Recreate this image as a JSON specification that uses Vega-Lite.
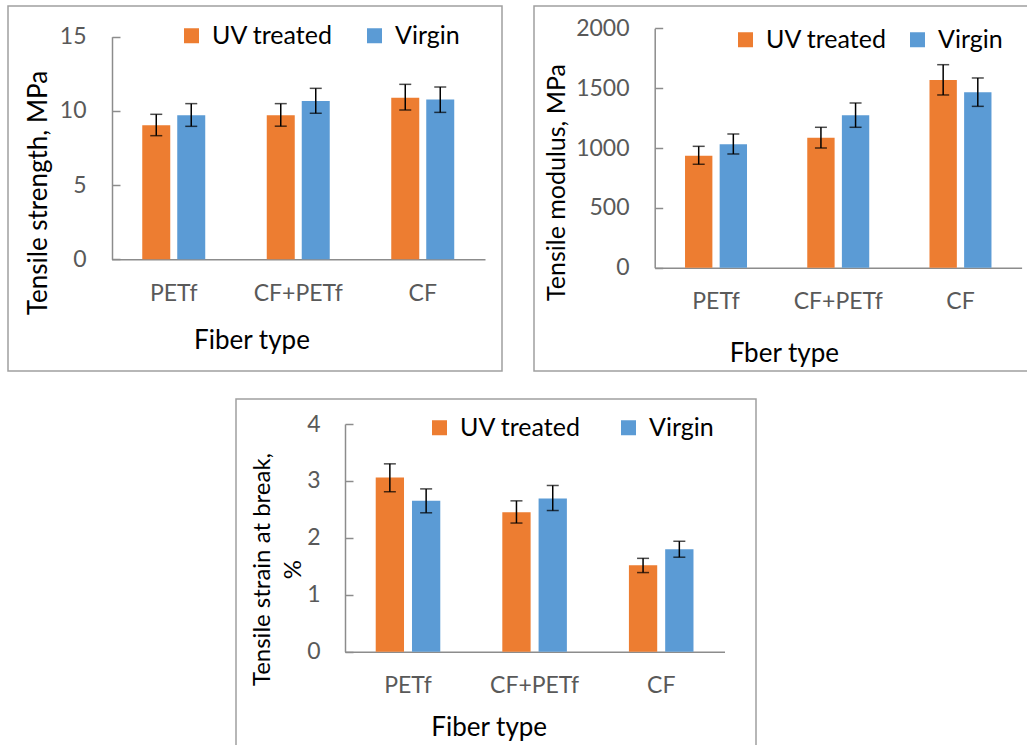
{
  "$schema": "https://vega.github.io/schema/vega-lite/v6.json",
  "padding": {"left": 7, "top": 5, "right": 0, "bottom": 0},
  "autosize": {"type": "pad"},
  "background": "white",
  "datasets": {
    "strength": [
      {"fiber": "PETf", "group": "UV treated", "value": 9.03, "lo": 8.33, "hi": 9.77},
      {"fiber": "PETf", "group": "Virgin", "value": 9.70, "lo": 8.96, "hi": 10.49},
      {"fiber": "CF+PETf", "group": "UV treated", "value": 9.70, "lo": 8.97, "hi": 10.49},
      {"fiber": "CF+PETf", "group": "Virgin", "value": 10.67, "lo": 9.84, "hi": 11.52},
      {"fiber": "CF", "group": "UV treated", "value": 10.89, "lo": 10.06, "hi": 11.79},
      {"fiber": "CF", "group": "Virgin", "value": 10.76, "lo": 9.90, "hi": 11.61}
    ],
    "modulus": [
      {"fiber": "PETf", "group": "UV treated", "value": 936, "lo": 864, "hi": 1014},
      {"fiber": "PETf", "group": "Virgin", "value": 1031, "lo": 950, "hi": 1117},
      {"fiber": "CF+PETf", "group": "UV treated", "value": 1086, "lo": 1000, "hi": 1173},
      {"fiber": "CF+PETf", "group": "Virgin", "value": 1273, "lo": 1173, "hi": 1376},
      {"fiber": "CF", "group": "UV treated", "value": 1568, "lo": 1443, "hi": 1696},
      {"fiber": "CF", "group": "Virgin", "value": 1465, "lo": 1348, "hi": 1585}
    ],
    "strain": [
      {"fiber": "PETf", "group": "UV treated", "value": 3.06, "lo": 2.81, "hi": 3.30},
      {"fiber": "PETf", "group": "Virgin", "value": 2.65, "lo": 2.44, "hi": 2.86},
      {"fiber": "CF+PETf", "group": "UV treated", "value": 2.45, "lo": 2.26, "hi": 2.65},
      {"fiber": "CF+PETf", "group": "Virgin", "value": 2.69, "lo": 2.48, "hi": 2.92},
      {"fiber": "CF", "group": "UV treated", "value": 1.52, "lo": 1.39, "hi": 1.64},
      {"fiber": "CF", "group": "Virgin", "value": 1.80, "lo": 1.66, "hi": 1.94}
    ]
  },
  "resolve": {"scale": {"x": "independent", "y": "independent", "xOffset": "independent", "color": "independent"}, "legend": {"color": "independent"}, "axis": {"x": "independent", "y": "independent"}},
  "spacing": 26,
  "vconcat": [
    {
      "spacing": 30,
      "resolve": {"scale": {"x": "independent", "y": "independent", "xOffset": "independent", "color": "independent"}, "legend": {"color": "independent"}, "axis": {"x": "independent", "y": "independent"}},
      "hconcat": [
        {
          "width": 494, "height": 365,
          "data": {"name": "strength"},
          "encoding": {
            "x": {"field": "fiber", "type": "nominal", "sort": ["PETf", "CF+PETf", "CF"],
              "scale": {"range": [103.5, 477], "paddingInner": 0, "paddingOuter": 0},
              "axis": {"title": "Fiber type", "offset": -111.7, "ticks": false, "labelPadding": 34, "labelBaseline": "middle", "labelAngle": 0, "titleX": 243.5, "titleY": 80.7, "titleBaseline": "middle", "titleAlign": "center"}},
            "xOffset": {"field": "group", "type": "nominal", "sort": ["UV treated", "Virgin"], "scale": {"paddingInner": 0.2, "paddingOuter": 0.879}}
          },
          "layer": [
            {"mark": {"type": "bar"},
             "encoding": {
               "y": {"field": "value", "type": "quantitative", "scale": {"domain": [0, 15], "range": [253.3, 30.7], "nice": false, "zero": true},
                 "axis": {"title": "Tensile strength, MPa", "values": [0, 5, 10, 15], "format": "d", "offset": -104, "tickSize": -8, "labelPadding": 34, "titleX": -74, "titleY": 186.5, "titleBaseline": "middle", "titleAlign": "center", "titleAngle": 270}},
               "color": {"field": "group", "type": "nominal", "scale": {"domain": ["UV treated", "Virgin"], "range": ["#ED7D31", "#5B9BD5"]},
                 "legend": {"orient": "none", "legendX": 171, "legendY": 17, "direction": "horizontal", "title": null, "columnPadding": 29}}
             }},
            {"mark": {"type": "rule", "color": "#000", "strokeWidth": 1.5},
             "encoding": {"y": {"field": "lo", "type": "quantitative"}, "y2": {"field": "hi"}}},
            {"mark": {"type": "tick", "color": "#000", "thickness": 1.5, "size": 12},
             "encoding": {"y": {"field": "lo", "type": "quantitative"}}},
            {"mark": {"type": "tick", "color": "#000", "thickness": 1.5, "size": 12},
             "encoding": {"y": {"field": "hi", "type": "quantitative"}}}
          ]
        },
        {
          "width": 494, "height": 365,
          "data": {"name": "modulus"},
          "encoding": {
            "x": {"field": "fiber", "type": "nominal", "sort": ["PETf", "CF+PETf", "CF"],
              "scale": {"range": [120.9, 487.6], "paddingInner": 0, "paddingOuter": 0},
              "axis": {"title": "Fber type", "offset": -103.3, "ticks": false, "labelPadding": 34, "labelBaseline": "middle", "labelAngle": 0, "titleX": 249.8, "titleY": 85.6, "titleBaseline": "middle", "titleAlign": "center"}},
            "xOffset": {"field": "group", "type": "nominal", "sort": ["UV treated", "Virgin"], "scale": {"paddingInner": 0.21, "paddingOuter": 0.87}}
          },
          "layer": [
            {"mark": {"type": "bar"},
             "encoding": {
               "y": {"field": "value", "type": "quantitative", "scale": {"domain": [0, 2000], "range": [261.7, 22.3], "nice": false, "zero": true},
                 "axis": {"title": "Tensile modulus, MPa", "values": [0, 500, 1000, 1500, 2000], "format": "d", "offset": -120.7, "tickSize": -8, "labelPadding": 33.7, "titleX": -98.7, "titleY": 176, "titleFontSize": 25, "titleBaseline": "middle", "titleAlign": "center", "titleAngle": 270}},
               "color": {"field": "group", "type": "nominal", "scale": {"domain": ["UV treated", "Virgin"], "range": ["#ED7D31", "#5B9BD5"]},
                 "legend": {"orient": "none", "legendX": 199, "legendY": 21, "direction": "horizontal", "title": null, "columnPadding": 18}}
             }},
            {"mark": {"type": "rule", "color": "#000", "strokeWidth": 1.5},
             "encoding": {"y": {"field": "lo", "type": "quantitative"}, "y2": {"field": "hi"}}},
            {"mark": {"type": "tick", "color": "#000", "thickness": 1.5, "size": 12},
             "encoding": {"y": {"field": "lo", "type": "quantitative"}}},
            {"mark": {"type": "tick", "color": "#000", "thickness": 1.5, "size": 12},
             "encoding": {"y": {"field": "hi", "type": "quantitative"}}}
          ]
        }
      ]
    },
    {
      "spacing": 0,
      "resolve": {"scale": {"x": "independent", "y": "independent", "xOffset": "independent", "color": "independent"}, "legend": {"color": "independent"}, "axis": {"x": "independent", "y": "independent"}},
      "hconcat": [
        {"width": 227, "height": 10, "data": {"values": []}, "mark": {"type": "point"}, "encoding": {}, "view": {"stroke": null}},
        {
          "width": 520, "height": 347,
          "data": {"name": "strain"},
          "encoding": {
            "x": {"field": "fiber", "type": "nominal", "sort": ["PETf", "CF+PETf", "CF"],
              "scale": {"range": [108.7, 488.5], "paddingInner": 0, "paddingOuter": 0},
              "axis": {"title": "Fiber type", "offset": -94.3, "ticks": false, "labelPadding": 34, "labelBaseline": "middle", "labelAngle": 0, "titleX": 252.7, "titleY": 75.6, "titleBaseline": "middle", "titleAlign": "center"}},
            "xOffset": {"field": "group", "type": "nominal", "sort": ["UV treated", "Virgin"], "scale": {"paddingInner": 0.22, "paddingOuter": 0.855}}
          },
          "layer": [
            {"mark": {"type": "bar"},
             "encoding": {
               "y": {"field": "value", "type": "quantitative", "scale": {"domain": [0, 4], "range": [252.7, 25], "nice": false, "zero": true},
                 "axis": {"title": ["Tensile strain at break,", "%"], "values": [0, 1, 2, 3, 4], "format": "d", "offset": -109, "tickSize": -8, "labelPadding": 33, "titleX": -82.7, "titleY": 170, "titleFontSize": 24, "titleBaseline": "middle", "titleAlign": "center", "titleAngle": 270, "titleLineHeight": 31}},
               "color": {"field": "group", "type": "nominal", "scale": {"domain": ["UV treated", "Virgin"], "range": ["#ED7D31", "#5B9BD5"]},
                 "legend": {"orient": "none", "legendX": 191, "legendY": 16, "direction": "horizontal", "title": null, "columnPadding": 35}}
             }},
            {"mark": {"type": "rule", "color": "#000", "strokeWidth": 1.5},
             "encoding": {"y": {"field": "lo", "type": "quantitative"}, "y2": {"field": "hi"}}},
            {"mark": {"type": "tick", "color": "#000", "thickness": 1.5, "size": 12},
             "encoding": {"y": {"field": "lo", "type": "quantitative"}}},
            {"mark": {"type": "tick", "color": "#000", "thickness": 1.5, "size": 12},
             "encoding": {"y": {"field": "hi", "type": "quantitative"}}}
          ]
        }
      ]
    }
  ],
  "config": {
    "font": "Lato",
    "view": {"stroke": "#a0a0a0", "strokeWidth": 1.5},
    "axis": {"grid": false, "labelFont": "Lato", "labelFontSize": 23, "labelColor": "#595959", "labelFlush": false, "labelOverlap": false, "labelLimit": 0,
      "titleFont": "Lato", "titleFontSize": 26, "titleFontWeight": "normal", "titleColor": "#000000", "titlePadding": 0,
      "domainColor": "#8c8c8c", "domainWidth": 1.5, "tickColor": "#8c8c8c", "tickWidth": 1.5},
    "legend": {"symbolType": "square", "symbolSize": 225, "symbolStrokeWidth": 0, "labelFont": "Lato", "labelFontSize": 25, "labelColor": "#000000", "labelOffset": 8, "labelLimit": 0, "padding": 0, "rowPadding": 0}
  }
}
